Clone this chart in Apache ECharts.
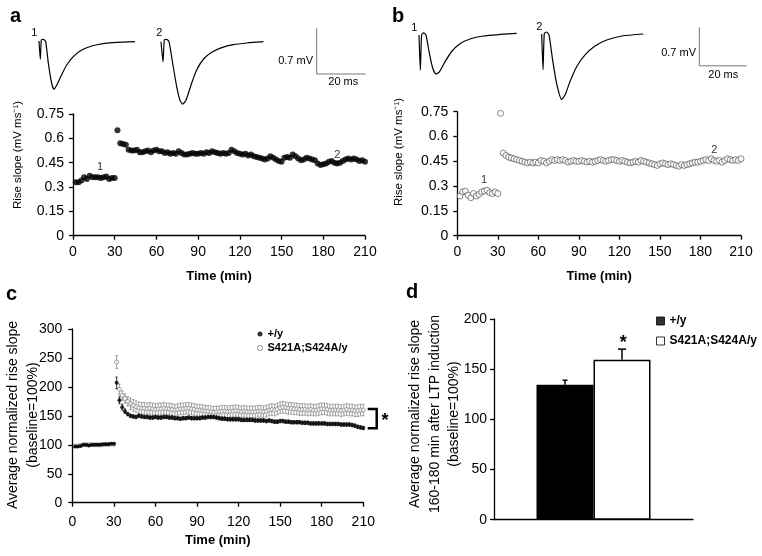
<!DOCTYPE html>
<html>
<head>
<meta charset="utf-8">
<script src="https://cdn.jsdelivr.net/npm/echarts@6/dist/echarts.min.js"></script>
<style>
  html, body { margin: 0; padding: 0; background: #fff; }
  #chart { width: 762px; height: 556px; }
</style>
</head>
<body>
<div id="chart"></div>
<script>
// sample times (min), one point every 2 min
const timeMin = [2,4,6,8,10,12,14,16,18,20,22,24,26,28,30,
  32,34,36,38,40,42,44,46,48,50,52,54,56,58,60,62,64,66,68,70,72,74,76,78,80,
  82,84,86,88,90,92,94,96,98,100,102,104,106,108,110,112,114,116,118,120,
  122,124,126,128,130,132,134,136,138,140,142,144,146,148,150,152,154,156,158,160,
  162,164,166,168,170,172,174,176,178,180,182,184,186,188,190,192,194,196,198,200,
  202,204,206,208,210];

// panel a : rise slope (mV/ms), +/y example
const riseA = [0.33,0.33,0.34,0.36,0.35,0.37,0.36,0.36,0.36,0.355,0.36,0.365,0.35,0.355,0.355,
  0.65,0.57,0.565,0.56,0.53,0.525,0.525,0.53,0.515,0.515,0.52,0.525,0.515,0.525,0.53,0.52,0.52,0.51,0.515,0.505,
  0.51,0.505,0.52,0.51,0.5,0.5,0.505,0.51,0.505,0.505,0.51,0.505,0.515,0.51,0.52,0.515,0.51,0.505,0.51,0.505,
  0.51,0.53,0.52,0.51,0.505,0.5,0.505,0.495,0.5,0.49,0.485,0.48,0.475,0.47,0.475,0.49,0.48,0.47,0.46,0.455,
  0.48,0.485,0.48,0.5,0.49,0.475,0.465,0.47,0.48,0.475,0.47,0.465,0.445,0.435,0.44,0.445,0.455,0.46,0.45,0.445,
  0.45,0.46,0.47,0.475,0.47,0.475,0.47,0.46,0.465,0.455];

// panel b : rise slope (mV/ms), S421A;S424A/y example
const riseB = [0.24,0.265,0.27,0.245,0.23,0.255,0.24,0.25,0.265,0.27,0.275,0.26,0.255,0.265,0.255,
  0.74,0.5,0.485,0.475,0.47,0.465,0.46,0.455,0.45,0.445,0.44,0.445,0.44,0.445,0.44,0.455,0.45,0.44,0.45,0.46,
  0.455,0.46,0.455,0.46,0.455,0.445,0.45,0.455,0.45,0.45,0.455,0.45,0.445,0.45,0.445,0.45,0.455,0.46,0.455,0.45,
  0.455,0.46,0.46,0.455,0.45,0.455,0.45,0.445,0.44,0.445,0.45,0.445,0.455,0.45,0.445,0.44,0.435,0.43,0.425,0.435,
  0.44,0.435,0.43,0.435,0.43,0.425,0.42,0.43,0.425,0.43,0.435,0.44,0.445,0.445,0.45,0.455,0.46,0.455,0.465,0.455,
  0.45,0.455,0.445,0.455,0.465,0.46,0.455,0.46,0.455,0.465];

// panel c : normalized rise slope (%), mean and s.e.m.
const normWt = [97,97,98,100,100,99,100,100,100,100,101,101,101,102,102,
  207,177,165,158,153,150,149,148,150,149,148,148,147,147,148,147,147,148,148,147,
  147,146,146,145,146,146,147,146,146,146,146,147,147,148,148,148,147,146,145,145,
  144,144,144,144,144,143,143,143,143,143,142,142,142,142,141,142,141,140,140,141,
  141,140,140,139,139,139,139,138,138,138,137,137,137,137,137,137,136,136,136,136,
  136,135,135,135,135,134,133,131,130,129];
const errWt = [1,1,1,1,1,1,1,1,1,1,1,1,1,1,1,
  10,6,5,4,3,3,3,3,3,3,
  3,3,3,3,3,3,3,3,3,3,
  3,3,3,3,3,3,3,3,3,3,
  3,3,3,3,3,3,3,3,3,3,
  3,3,3,3,3,3,3,3,3,3,
  3,3,3,3,3,3,3,3,3,3,
  3,3,3,3,3,3,3,3,3,3,
  3,3,3,3,3,3,3,3,3,3,
  3,3,3,3,3,3,3,3,3,3];
const normMut = [98,98,99,100,100,100,100,100,100,100,100,101,101,101,101,
  243,196,185,180,175,171,168,166,164,163,163,162,163,162,161,162,162,163,162,162,
  161,160,161,162,162,163,163,162,161,160,160,159,158,158,157,156,157,157,158,158,
  157,158,158,159,158,157,158,157,157,157,157,158,158,157,158,160,161,160,162,164,
  165,164,163,163,162,162,161,161,161,160,161,160,160,161,162,162,161,160,160,160,
  160,159,160,161,160,160,159,159,160,160];
const errMut = [1,1,1,1,1,1,1,1,1,1,1,1,1,1,1,
  11,9,8,8,8,10,10,10,10,10,
  10,10,10,10,10,10,10,10,10,10,
  10,10,10,10,10,10,10,10,10,10,
  10,10,10,10,10,10,10,10,10,10,
  10,10,10,10,10,10,10,10,10,10,
  10,10,10,10,10,10,10,10,10,10,
  10,10,10,10,10,10,10,10,10,10,
  10,10,10,10,10,10,10,10,10,10,
  10,10,10,10,10,10,10,10,10,10];

// panel d : 160-180 min average
const groups = ['+/y', 'S421A;S424A/y'];
const barMeans = [134.5, 159.5];
const barErrs = [4.5, 10.5];

// example fEPSP traces: [ms, mV]
const traceA1 = [[0,0],[0.54,-0.28],[0.95,0.015],[1.77,0.025],[2.72,-0.01],[3.81,-0.34],[5.17,-0.65],[6.12,-0.74],[7.21,-0.68],[9.25,-0.52],[11.3,-0.37],[14,-0.24],[17.4,-0.14],[21.5,-0.077],[26.2,-0.04],[31.7,-0.02],[39.2,-0.01]];
const traceA2 = [[0,0],[0.82,-0.31],[1.36,0.026],[2.3,0.037],[3.27,0],[4.76,-0.33],[6.4,-0.69],[7.76,-0.9],[8.84,-0.96],[10.2,-0.9],[12.5,-0.64],[14.55,-0.435],[17.3,-0.27],[20.7,-0.163],[24.8,-0.092],[29.5,-0.046],[35,-0.02],[41.8,0]];
const traceB1 = [[0,0],[0.56,-0.64],[1.1,0],[1.97,0.04],[2.95,0],[4.36,-0.33],[5.77,-0.6],[7.17,-0.71],[8.58,-0.67],[11,-0.485],[13.8,-0.3],[17.3,-0.16],[21.5,-0.073],[27.1,-0.018],[34.2,0.01],[41.2,0.03]];
const traceB2 = [[0,0],[0.56,-0.65],[1.1,0.01],[2.1,0.036],[3.1,-0.02],[4.6,-0.47],[6.3,-0.9],[8.4,-1.19],[9.85,-1.11],[11.9,-0.87],[14.8,-0.59],[18.3,-0.38],[22.5,-0.22],[27.4,-0.11],[33.8,-0.036],[42.9,0]];
const scaleBar = [[0,0.7],[0,0],[20,0]]; // 0.7 mV, 20 ms

const FONT = '"Liberation Sans", Arial, sans-serif';
const chart = echarts.init(document.getElementById('chart'));

// trace grids share one scale per panel
function traceGrid(left, baseY, pxMs, pxMv) {
  return { left: left, top: baseY - 0.15 * pxMv, width: 45 * pxMs, height: 1.4 * pxMv };
}

function valueAxis(gridIndex, min, max, interval, extra) {
  return Object.assign({
    type: 'value', gridIndex: gridIndex, min: min, max: max, interval: interval,
    splitLine: { show: false },
    axisLine: { show: true, onZero: false, lineStyle: { color: '#000', width: 1.3 } },
    axisTick: { show: true, inside: false, length: 4, lineStyle: { color: '#000', width: 1.3 } },
    axisLabel: { color: '#000', fontSize: 14, fontFamily: FONT, margin: 9 }
  }, extra || {});
}
function timeName(gap) {
  return {
    name: 'Time (min)', nameLocation: 'middle', nameGap: gap,
    nameTextStyle: { color: '#000', fontWeight: 'bold', fontSize: 13, fontFamily: FONT }
  };
}
function hiddenAxis(gridIndex, min, max) {
  return { type: 'value', gridIndex: gridIndex, min: min, max: max, show: false };
}

function errorBars(xAxisIndex, yAxisIndex, means, errs, color, halfCap, z) {
  return {
    type: 'custom', xAxisIndex: xAxisIndex, yAxisIndex: yAxisIndex, z: z, silent: true,
    data: timeMin.map((t, i) => [t, means[i], errs[i]]),
    encode: { x: 0, y: 1 },
    renderItem: function (params, api) {
      const t = api.value(0), m = api.value(1), e = api.value(2);
      const hi = api.coord([t, m + e]), lo = api.coord([t, m - e]);
      const st = { stroke: color, lineWidth: 0.8 };
      return { type: 'group', children: [
        { type: 'line', shape: { x1: hi[0], y1: hi[1], x2: lo[0], y2: lo[1] }, style: st },
        { type: 'line', shape: { x1: hi[0] - halfCap, y1: hi[1], x2: hi[0] + halfCap, y2: hi[1] }, style: st },
        { type: 'line', shape: { x1: lo[0] - halfCap, y1: lo[1], x2: lo[0] + halfCap, y2: lo[1] }, style: st }
      ] };
    }
  };
}

function traceLine(idx, data, color, width) {
  return {
    type: 'line', xAxisIndex: idx, yAxisIndex: idx, data: data, showSymbol: false,
    smooth: 0.2, clip: false, silent: true,
    lineStyle: { color: color, width: width }
  };
}

const barW = 57;

const option = {
  animation: false,
  backgroundColor: '#fff',
  textStyle: { fontFamily: FONT },
  grid: [
    { left: 73, top: 114, width: 292, height: 121.7 },      // 0 a
    { left: 457.3, top: 111.7, width: 283.7, height: 124 },  // 1 b
    { left: 72.3, top: 329, width: 291, height: 173.7 },     // 2 c
    { left: 494, top: 319, width: 199, height: 200.7 },      // 3 d
    traceGrid(39, 41, 2.45, 65),                              // 4 a trace 1
    traceGrid(161, 41.7, 2.45, 65),                           // 5 a trace 2
    { left: 316.7, top: 28.3, width: 49, height: 45.7 },      // 6 a scale bar
    traceGrid(419, 35, 2.37, 55),                             // 7 b trace 1
    traceGrid(541.7, 34, 2.37, 55),                           // 8 b trace 2
    { left: 699.3, top: 27.3, width: 47.4, height: 38.5 }     // 9 b scale bar
  ],
  xAxis: [
    valueAxis(0, 0, 210, 30, timeName(34)),
    valueAxis(1, 0, 210, 30, timeName(34)),
    valueAxis(2, 0, 210, 30, Object.assign(timeName(31), { axisLabel: { color: '#000', fontSize: 14, fontFamily: FONT, margin: 12 } })),
    { type: 'category', gridIndex: 3, data: ['160-180 min'],
      axisLine: { lineStyle: { color: '#000', width: 1.3 } },
      axisTick: { show: false }, axisLabel: { show: false } },
    hiddenAxis(4, 0, 45), hiddenAxis(5, 0, 45), hiddenAxis(6, 0, 20),
    hiddenAxis(7, 0, 45), hiddenAxis(8, 0, 45), hiddenAxis(9, 0, 20)
  ],
  yAxis: [
    valueAxis(0, 0, 0.75, 0.15),
    valueAxis(1, 0, 0.75, 0.15),
    valueAxis(2, 0, 300, 50, { axisLabel: { color: '#000', fontSize: 14, fontFamily: FONT, margin: 10 } }),
    valueAxis(3, 0, 200, 50, { axisLabel: { color: '#000', fontSize: 14, fontFamily: FONT, margin: 7 } }),
    hiddenAxis(4, -1.25, 0.15), hiddenAxis(5, -1.25, 0.15), hiddenAxis(6, 0, 0.7),
    hiddenAxis(7, -1.25, 0.15), hiddenAxis(8, -1.25, 0.15), hiddenAxis(9, 0, 0.7)
  ],
  legend: [
    { left: 257, top: 328, orient: 'vertical', selectedMode: false,
      itemWidth: 5, itemHeight: 5, itemGap: 2, padding: 0,
      textStyle: { color: '#000', fontWeight: 'bold', fontSize: 11, lineHeight: 12, fontFamily: FONT },
      data: [
        { name: '+/y', icon: 'circle', itemStyle: { color: '#000', borderWidth: 0 } },
        { name: 'S421A;S424A/y', icon: 'circle', itemStyle: { color: '#fff', borderColor: '#777', borderWidth: 1 } }
      ] },
    { left: 656, top: 315, orient: 'vertical', selectedMode: false,
      itemWidth: 8, itemHeight: 8, itemGap: 8, padding: 0,
      textStyle: { color: '#000', fontWeight: 'bold', fontSize: 12, lineHeight: 12, fontFamily: FONT },
      data: [
        { name: '+/y', icon: 'rect', itemStyle: { color: '#000', borderColor: '#000', borderWidth: 1 } },
        { name: 'S421A;S424A/y', icon: 'rect', itemStyle: { color: '#fff', borderColor: '#000', borderWidth: 1 } }
      ] }
  ],
  series: [
    // a
    { type: 'scatter', xAxisIndex: 0, yAxisIndex: 0, symbolSize: 6, silent: true,
      itemStyle: { color: '#000' },
      data: timeMin.map((t, i) => [t, riseA[i]]) },
    // b
    { type: 'scatter', xAxisIndex: 1, yAxisIndex: 1, symbolSize: 6, silent: true,
      itemStyle: { color: '#fff', borderColor: '#444', borderWidth: 0.8 },
      data: timeMin.map((t, i) => [t, riseB[i]]) },
    // c
    errorBars(2, 2, normMut, errMut, '#888', 1.3, 2),
    { type: 'scatter', name: 'S421A;S424A/y', xAxisIndex: 2, yAxisIndex: 2, symbolSize: 4, z: 3, silent: true,
      itemStyle: { color: '#fff', borderColor: '#777', borderWidth: 0.8 },
      data: timeMin.map((t, i) => [t, normMut[i]]) },
    errorBars(2, 2, normWt, errWt, '#000', 1.1, 4),
    { type: 'scatter', name: '+/y', xAxisIndex: 2, yAxisIndex: 2, symbolSize: 4, z: 5, silent: true,
      itemStyle: { color: '#000' },
      data: timeMin.map((t, i) => [t, normWt[i]]) },
    // d
    { type: 'bar', name: groups[0], xAxisIndex: 3, yAxisIndex: 3, barWidth: barW, barGap: '0%', silent: true,
      itemStyle: { color: '#000', borderColor: '#000', borderWidth: 1.5 },
      data: [barMeans[0]] },
    { type: 'bar', name: groups[1], xAxisIndex: 3, yAxisIndex: 3, barWidth: barW, barGap: '0%', silent: true,
      itemStyle: { color: '#fff', borderColor: '#000', borderWidth: 1.5 },
      data: [barMeans[1]] },
    { type: 'custom', xAxisIndex: 3, yAxisIndex: 3, z: 5, silent: true,
      data: barMeans.map((m, i) => [0, m, barErrs[i]]),
      encode: { x: 0, y: 1 },
      renderItem: function (params, api) {
        const side = params.dataIndex === 0 ? -1 : 1;
        const base = api.coord([api.value(0), api.value(1)]);
        const hi = api.coord([api.value(0), api.value(1) + api.value(2)]);
        const x = base[0] + side * barW / 2;
        const cap = params.dataIndex === 0 ? 2.5 : 4;
        const st = { stroke: '#000', lineWidth: 1.5 };
        return { type: 'group', children: [
          { type: 'line', shape: { x1: x, y1: base[1], x2: x, y2: hi[1] }, style: st },
          { type: 'line', shape: { x1: x - cap, y1: hi[1], x2: x + cap, y2: hi[1] }, style: st }
        ] };
      } },
    // traces and scale bars
    traceLine(4, traceA1, '#000', 1.2),
    traceLine(5, traceA2, '#000', 1.2),
    { type: 'line', xAxisIndex: 6, yAxisIndex: 6, data: scaleBar, showSymbol: false, clip: false, silent: true,
      lineStyle: { color: '#777', width: 1 } },
    traceLine(7, traceB1, '#000', 1.2),
    traceLine(8, traceB2, '#000', 1.2),
    { type: 'line', xAxisIndex: 9, yAxisIndex: 9, data: scaleBar, showSymbol: false, clip: false, silent: true,
      lineStyle: { color: '#777', width: 1 } }
  ],
  graphic: [
    // panel letters
    { type: 'text', left: 10, top: 6, style: { text: 'a', font: 'bold 20px ' + FONT, fill: '#000' } },
    { type: 'text', left: 392, top: 6, style: { text: 'b', font: 'bold 20px ' + FONT, fill: '#000' } },
    { type: 'text', left: 6, top: 284, style: { text: 'c', font: 'bold 20px ' + FONT, fill: '#000' } },
    { type: 'text', left: 406, top: 282, style: { text: 'd', font: 'bold 20px ' + FONT, fill: '#000' } },
    // trace numbers
    { type: 'text', x: 34.3, y: 33.3, style: { text: '1', font: '11px ' + FONT, fill: '#000', align: 'center', verticalAlign: 'middle' } },
    { type: 'text', x: 159.3, y: 33.3, style: { text: '2', font: '11px ' + FONT, fill: '#000', align: 'center', verticalAlign: 'middle' } },
    { type: 'text', x: 414.3, y: 28.3, style: { text: '1', font: '11px ' + FONT, fill: '#000', align: 'center', verticalAlign: 'middle' } },
    { type: 'text', x: 539.3, y: 26.7, style: { text: '2', font: '11px ' + FONT, fill: '#000', align: 'center', verticalAlign: 'middle' } },
    // scale bar labels
    { type: 'text', x: 313, y: 60.7, style: { text: '0.7 mV', font: '11px ' + FONT, fill: '#000', align: 'right', verticalAlign: 'middle' } },
    { type: 'text', x: 343.3, y: 81.7, style: { text: '20 ms', font: '11px ' + FONT, fill: '#000', align: 'center', verticalAlign: 'middle' } },
    { type: 'text', x: 696, y: 53.3, style: { text: '0.7 mV', font: '11px ' + FONT, fill: '#000', align: 'right', verticalAlign: 'middle' } },
    { type: 'text', x: 723.3, y: 75, style: { text: '20 ms', font: '11px ' + FONT, fill: '#000', align: 'center', verticalAlign: 'middle' } },
    // time-course annotations
    { type: 'text', x: 100, y: 166.7, style: { text: '1', font: '11px ' + FONT, fill: '#333', align: 'center', verticalAlign: 'middle' } },
    { type: 'text', x: 337.3, y: 155, style: { text: '2', font: '11px ' + FONT, fill: '#333', align: 'center', verticalAlign: 'middle' } },
    { type: 'text', x: 484, y: 180, style: { text: '1', font: '11px ' + FONT, fill: '#333', align: 'center', verticalAlign: 'middle' } },
    { type: 'text', x: 714.3, y: 150, style: { text: '2', font: '11px ' + FONT, fill: '#333', align: 'center', verticalAlign: 'middle' } },
    // y axis titles
    { type: 'text', x: 18, y: 155, rotation: Math.PI / 2,
      style: { text: 'Rise slope (mV ms\u207B\u00B9)', font: '11.5px ' + FONT, fill: '#000', align: 'center', verticalAlign: 'middle' } },
    { type: 'text', x: 399, y: 152, rotation: Math.PI / 2,
      style: { text: 'Rise slope (mV ms\u207B\u00B9)', font: '11.5px ' + FONT, fill: '#000', align: 'center', verticalAlign: 'middle' } },
    { type: 'text', x: 23, y: 415, rotation: Math.PI / 2,
      style: { text: 'Average normalized rise slope\n(baseline=100%)', font: '14px ' + FONT, lineHeight: 20, fill: '#000', align: 'center', verticalAlign: 'middle' } },
    { type: 'text', x: 435, y: 414, rotation: Math.PI / 2,
      style: { text: 'Average normalized rise slope\n160-180 min after LTP induction\n(baseline=100%)', font: '14px ' + FONT, lineHeight: 19.5, fill: '#000', align: 'center', verticalAlign: 'middle' } },
    // significance marks
    { type: 'polyline', shape: { points: [[367.7, 409], [376.7, 409], [376.7, 428.3], [367.7, 428.3]] },
      style: { stroke: '#000', lineWidth: 2.5, fill: null } },
    { type: 'text', x: 385, y: 421, style: { text: '*', font: 'bold 18px ' + FONT, fill: '#000', align: 'center', verticalAlign: 'middle' } },
    { type: 'text', x: 623.3, y: 343, style: { text: '*', font: 'bold 18px ' + FONT, fill: '#000', align: 'center', verticalAlign: 'middle' } }
  ]
};

chart.setOption(option);
</script>
</body>
</html>
